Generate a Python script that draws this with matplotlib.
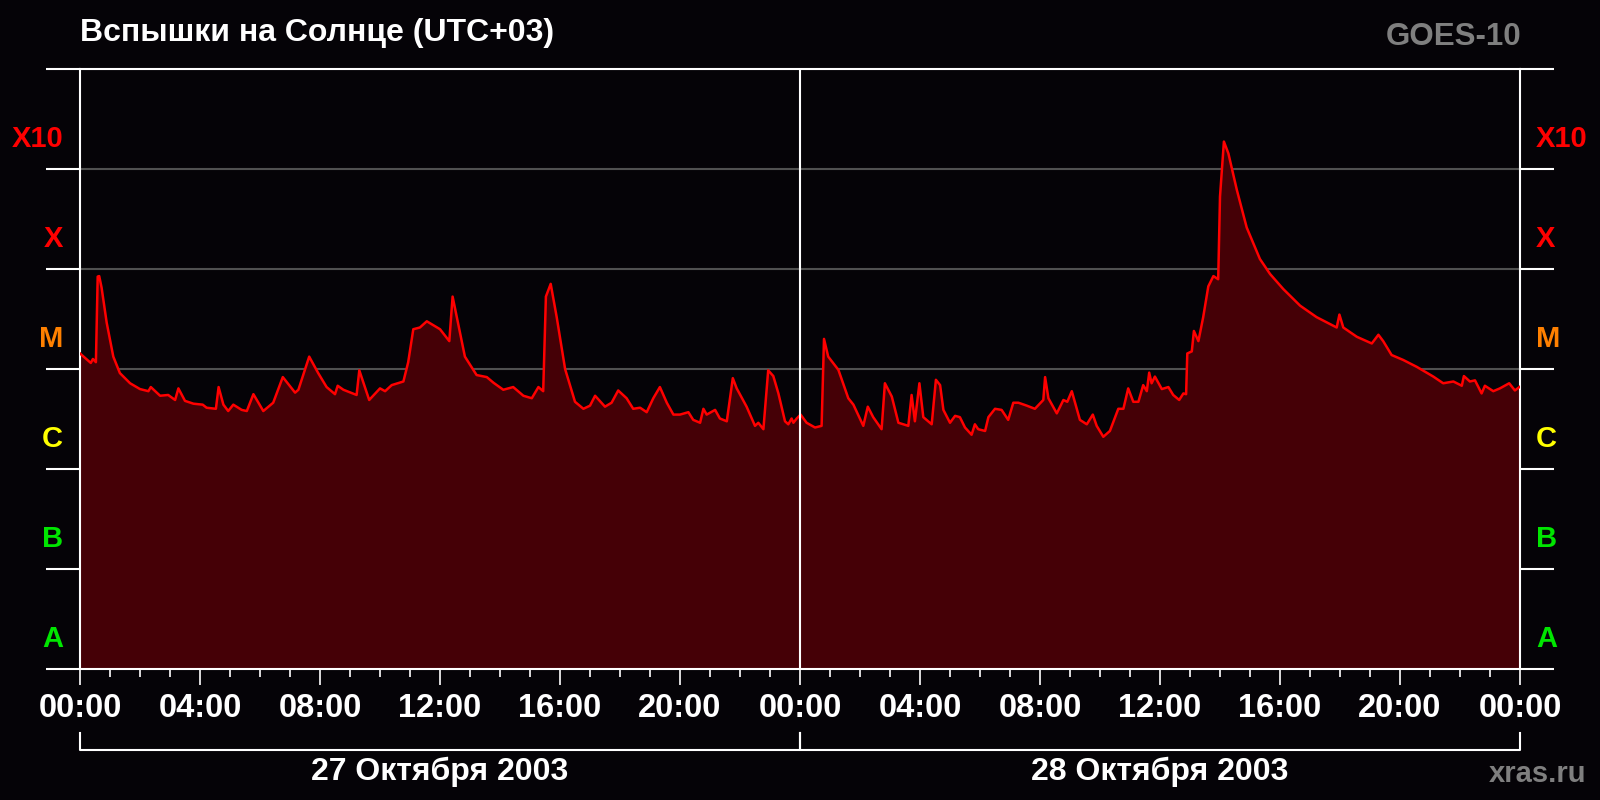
import matplotlib
matplotlib.use('Agg')
import matplotlib.pyplot as plt
import numpy as np

plt.rcParams['font.family'] = ['Liberation Sans', 'DejaVu Sans']
plt.rcParams['font.weight'] = 'bold'

# GOES-10 X-ray flux, hours from 27 Oct 00:00 (UTC+03), W/m^2
hours = [0.00, 0.36, 0.43, 0.53, 0.59, 0.64, 0.72, 0.89, 1.11, 1.33, 1.67, 2.00, 2.28, 2.36, 2.67,
         2.94, 3.17, 3.28, 3.50, 3.78, 4.09, 4.22, 4.53, 4.62, 4.78, 4.94, 5.11, 5.39, 5.56, 5.78,
         6.11, 6.44, 6.76, 7.17, 7.28, 7.64, 7.94, 8.22, 8.50, 8.59, 8.78, 9.22, 9.31, 9.64, 10.00,
         10.17, 10.39, 10.78, 10.94, 11.11, 11.33, 11.56, 12.00, 12.31, 12.42, 12.56, 12.83, 13.22,
         13.56, 13.78, 14.11, 14.44, 14.78, 15.06, 15.28, 15.44, 15.53, 15.69, 15.89, 16.17, 16.50,
         16.78, 17.00, 17.17, 17.50, 17.72, 17.94, 18.22, 18.44, 18.67, 18.89, 19.11, 19.33, 19.56,
         19.78, 20.00, 20.28, 20.44, 20.67, 20.78, 20.89, 21.17, 21.33, 21.56, 21.76, 21.89, 22.22,
         22.50, 22.61, 22.78, 22.94, 23.11, 23.28, 23.50, 23.61, 23.72, 23.78, 23.89, 24.02,
         24.22, 24.50, 24.72, 24.80, 24.94, 25.28, 25.61, 25.78, 26.11, 26.26, 26.44, 26.72, 26.83,
         27.06, 27.28, 27.61, 27.72, 27.83, 27.98, 28.11, 28.39, 28.53, 28.67, 28.78, 29.00, 29.17,
         29.33, 29.50, 29.72, 29.83, 29.94, 30.17, 30.28, 30.50, 30.72, 30.94, 31.11, 31.28, 31.56,
         31.83, 32.11, 32.17, 32.28, 32.56, 32.78, 32.91, 33.06, 33.33, 33.56, 33.76, 33.89, 34.11,
         34.33, 34.61, 34.78, 34.94, 35.11, 35.28, 35.44, 35.56, 35.64, 35.72, 35.83, 36.06, 36.28,
         36.44, 36.64, 36.78, 36.87, 36.91, 37.06, 37.13, 37.28, 37.44, 37.61, 37.78, 37.94, 38.00,
         38.13, 38.28, 38.56, 38.89, 39.33, 39.67, 40.11, 40.67, 41.22, 41.89, 41.98, 42.11, 42.56,
         43.06, 43.28, 43.44, 43.72, 44.11, 44.56, 45.11, 45.44, 45.78, 46.06, 46.13, 46.33, 46.50,
         46.72, 46.83, 47.11, 47.33, 47.64, 47.83, 47.98]
flux = [1.43e-5, 1.15e-5, 1.26e-5, 1.17e-5, 8.4e-5, 8.5e-5, 6.5e-5, 2.9e-5, 1.33e-5, 9.1e-6, 7.2e-6,
        6.3e-6, 6.0e-6, 6.6e-6, 5.4e-6, 5.5e-6, 4.9e-6, 6.4e-6, 4.8e-6, 4.5e-6, 4.4e-6, 4.1e-6, 4.0e-6,
        6.6e-6, 4.4e-6, 3.8e-6, 4.4e-6, 3.9e-6, 3.8e-6, 5.6e-6, 3.8e-6, 4.6e-6, 8.3e-6, 5.8e-6, 6.2e-6,
        1.33e-5, 9.1e-6, 6.6e-6, 5.6e-6, 6.8e-6, 6.2e-6, 5.5e-6, 9.7e-6, 4.9e-6, 6.4e-6, 6.0e-6, 6.9e-6,
        7.5e-6, 1.17e-5, 2.5e-5, 2.6e-5, 3.0e-5, 2.5e-5, 1.9e-5, 5.3e-5, 3.3e-5, 1.33e-5, 8.7e-6,
        8.3e-6, 7.3e-6, 6.2e-6, 6.6e-6, 5.4e-6, 5.1e-6, 6.6e-6, 6.0e-6, 5.3e-5, 7.1e-5, 3.3e-5, 1.0e-5,
        4.7e-6, 4.0e-6, 4.3e-6, 5.4e-6, 4.2e-6, 4.6e-6, 6.1e-6, 5.1e-6, 4.0e-6, 4.1e-6, 3.7e-6, 5.1e-6,
        6.6e-6, 4.6e-6, 3.5e-6, 3.5e-6, 3.7e-6, 3.1e-6, 2.9e-6, 4.0e-6, 3.5e-6, 3.9e-6, 3.2e-6, 3.0e-6,
        8.1e-6, 6.4e-6, 4.2e-6, 2.7e-6, 2.9e-6, 2.5e-6, 9.7e-6, 8.5e-6, 5.7e-6, 3.0e-6, 2.8e-6, 3.2e-6,
        2.9e-6, 3.2e-6, 3.5e-6,
        2.9e-6, 2.6e-6, 2.7e-6, 2.0e-5, 1.33e-5, 9.8e-6, 5.1e-6, 4.4e-6, 2.7e-6, 4.2e-6, 3.3e-6, 2.5e-6,
        7.2e-6, 5.3e-6, 2.9e-6, 2.7e-6, 5.5e-6, 3.0e-6, 7.2e-6, 3.3e-6, 2.8e-6, 7.8e-6, 6.9e-6, 3.9e-6,
        2.9e-6, 3.4e-6, 3.3e-6, 2.6e-6, 2.2e-6, 2.8e-6, 2.5e-6, 2.4e-6, 3.3e-6, 4.0e-6, 3.9e-6, 3.1e-6,
        4.6e-6, 4.6e-6, 4.3e-6, 4.0e-6, 4.9e-6, 8.3e-6, 5.1e-6, 3.6e-6, 4.9e-6, 4.7e-6, 6.0e-6, 3.1e-6,
        2.8e-6, 3.5e-6, 2.7e-6, 2.1e-6, 2.4e-6, 4.0e-6, 4.0e-6, 6.4e-6, 4.7e-6, 4.7e-6, 6.9e-6, 6.0e-6,
        9.2e-6, 7.2e-6, 8.4e-6, 6.3e-6, 6.6e-6, 5.5e-6, 4.9e-6, 5.7e-6, 5.6e-6, 1.43e-5, 1.5e-5, 2.4e-5,
        1.9e-5, 3.3e-5, 6.7e-5, 8.5e-5, 7.9e-5, 5.3e-4, 1.88e-3, 1.43e-3, 6.2e-4, 2.6e-4, 1.26e-4,
        8.9e-5, 6.3e-5, 4.3e-5, 3.3e-5, 2.6e-5, 3.5e-5, 2.6e-5, 2.1e-5, 1.8e-5, 2.2e-5, 1.9e-5, 1.38e-5,
        1.23e-5, 1.05e-5, 8.4e-6, 7.2e-6, 7.5e-6, 6.8e-6, 8.5e-6, 7.5e-6, 7.7e-6, 5.7e-6, 6.8e-6,
        6.0e-6, 6.4e-6, 7.2e-6, 6.1e-6, 6.6e-6]

class_names = ['A', 'B', 'C', 'M', 'X', 'X10']
class_levels = [1e-8, 1e-7, 1e-6, 1e-5, 1e-4, 1e-3]
class_colors = ['#00e600', '#00e600', '#ffff00', '#ff8000', '#ff0000', '#ff0000']
hour_ticks = list(range(0, 49, 4))
hour_labels = ['00:00', '04:00', '08:00', '12:00', '16:00', '20:00', '00:00',
               '04:00', '08:00', '12:00', '16:00', '20:00', '00:00']
day_labels = ['27 Октября 2003', '28 Октября 2003']

bg = '#050307'
W, H = 1600, 800
fig = plt.figure(figsize=(16, 8), dpi=100, facecolor=bg)
ax = fig.add_axes([80 / W, 1 - 669 / H, 1440 / W, 600 / H])
ax.set_facecolor(bg)

ax.fill_between(hours, flux, 1e-8, color='#450006', lw=0, zorder=2)
ax.plot(hours, flux, color='#ff0000', lw=1.8, zorder=3)
ax.axvline(24, color='white', lw=1.5, zorder=4)

ax.set_yscale('log')
ax.set_ylim(1e-8, 1e-2)
ax.set_xlim(0, 48)

ax.set_yticks([1e-8, 1e-7, 1e-6, 1e-5, 1e-4, 1e-3, 1e-2])
ax.yaxis.set_minor_locator(matplotlib.ticker.NullLocator())
ax.set_yticklabels([])
ax.tick_params(axis='y', which='major', direction='out', length=24.5, width=1.5,
               color='white', left=True, right=True)
ax.grid(axis='y', color='#505050', lw=1.5)
ax.set_axisbelow(True)

ax.set_xticks(hour_ticks)
ax.set_xticks(range(0, 49), minor=True)
ax.set_xticklabels(hour_labels, fontsize=23.5, color='white', fontweight='bold')
ax.tick_params(axis='x', which='major', direction='out', length=11.5, width=1.2,
               color='white', pad=6)
ax.tick_params(axis='x', which='minor', direction='out', length=6, width=1.2, color='white')

for s in ax.spines.values():
    s.set_color('white')
    s.set_linewidth(1.5)

ytr = ax.get_yaxis_transform()
for name, lvl, col in zip(class_names, class_levels, class_colors):
    ax.text(-17 / 1440, lvl * 10 ** 0.3, name, transform=ytr, ha='right', va='center',
            color=col, fontsize=21, fontweight='bold')
    ax.text(1456 / 1440, lvl * 10 ** 0.3, name, transform=ytr, ha='left', va='center',
            color=col, fontsize=21, fontweight='bold')

xtr = ax.get_xaxis_transform()
yb_top = (669 - 733) / 600
yb = (669 - 750) / 600
for d in range(2):
    x0, x1 = 24 * d, 24 * (d + 1)
    ax.plot([x0, x0, x1, x1], [yb_top, yb, yb, yb_top], color='white', lw=1.5,
            transform=xtr, clip_on=False)
    ax.text((x0 + x1) / 2, (669 - 780) / 600, day_labels[d], transform=xtr,
            ha='center', va='baseline', color='white', fontsize=23, fontweight='bold')

fig.text(80 / W, 1 - 41 / H, 'Вспышки на Солнце (UTC+03)', ha='left', va='baseline',
         color='white', fontsize=23, fontweight='bold')
fig.text(1521 / W, 1 - 45 / H, 'GOES-10', ha='right', va='baseline',
         color='#7f7f7f', fontsize=22.5, fontweight='bold')
fig.text(1586 / W, 1 - 782 / H, 'xras.ru', ha='right', va='baseline',
         color='#7f7f7f', fontsize=21, fontweight='bold')

fig.savefig('out.png', dpi=100, facecolor=bg)
